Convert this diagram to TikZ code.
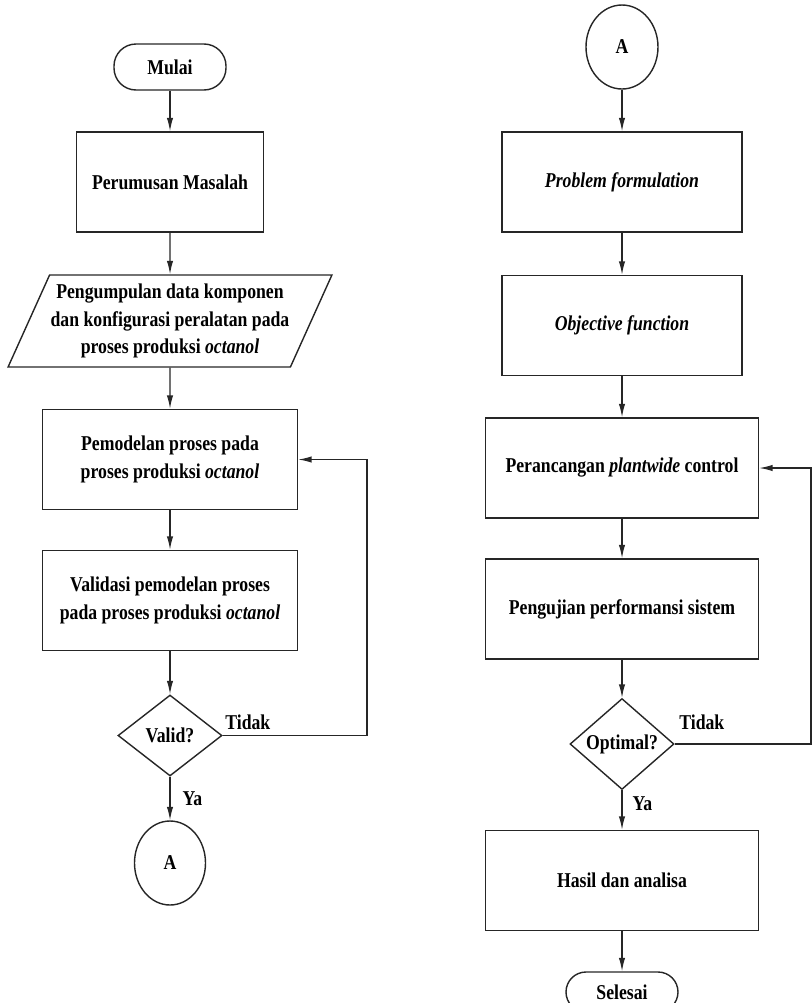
\documentclass[tikz,border=0pt]{standalone}
\usepackage{fontspec}
\setmainfont{Liberation Serif}[FakeStretch=0.84]
\usetikzlibrary{shapes.geometric,arrows.meta}

\begin{document}
\begin{tikzpicture}[
    font=\fontsize{15}{19.6}\selectfont\bfseries,
    garis/.style={line width=1pt, draw=black!85},
    proses/.style={garis, rectangle, minimum height=2.5cm, align=center, inner sep=2pt},
    terminal/.style={garis, rectangle, rounded corners=0.55cm, minimum width=2.8cm, minimum height=1.15cm},
    konektor/.style={garis, ellipse, minimum width=1.8cm, minimum height=2.1cm, inner sep=0pt},
    keputusan/.style={garis, diamond, minimum width=2.6cm, minimum height=2.025cm, inner sep=0pt},
    data/.style={garis, trapezium, trapezium left angle=61, trapezium right angle=119,
        trapezium stretches=true, minimum width=8.125cm, minimum height=2.3cm, align=center, inner sep=0pt},
    panah/.style={line width=0.9pt, draw=black!85, -{Latex[length=9.5pt,width=4.5pt]}},
    ket/.style={inner sep=0pt}
]
    % Batas gambar
    \useasboundingbox (0,0) rectangle (20.3,-25.075);

    % Kolom kiri
    \node[terminal] (mulai) at (4.25,-1.675) {Mulai};
    \node[proses, minimum width=4.675cm] (rumusan) at (4.25,-4.55) {Perumusan Masalah};
    \node[data] (kumpul) at (4.25,-8.025) {Pengumpulan data komponen\\ dan konfigurasi peralatan pada\\ proses produksi \textit{octanol}};
    \node[proses, minimum width=6.375cm] (model) at (4.25,-11.4875) {Pemodelan proses pada\\ proses produksi \textit{octanol}};
    \node[proses, minimum width=6.375cm] (validasi) at (4.25,-15.0125) {Validasi pemodelan proses\\ pada proses produksi \textit{octanol}};
    \node[keputusan] (valid) at (4.25,-18.3875) {Valid?};
    \node[konektor, minimum width=1.775cm] (A1) at (4.25,-21.575) {A};
    \coordinate (balikL) at (9.175,0);

    % Kolom kanan
    \node[konektor] (A2) at (15.55,-1.175) {A};
    \node[proses, minimum width=6cm] (problem) at (15.55,-4.55) {\textit{Problem formulation}};
    \node[proses, minimum width=6cm] (objektif) at (15.55,-8.1375) {\textit{Objective function}};
    \node[proses, minimum width=6.825cm] (rancang) at (15.55,-11.7) {Perancangan \textit{plantwide} control};
    \node[proses, minimum width=6.825cm] (uji) at (15.55,-15.225) {Pengujian performansi sistem};
    \node[keputusan] (optimal) at (15.55,-18.6) {Optimal?};
    \node[proses, minimum width=6.825cm] (hasil) at (15.55,-22.0125) {Hasil dan analisa};
    \node[terminal, minimum height=1cm, rounded corners=0.5cm] (selesai) at (15.55,-24.8) {Selesai};
    \coordinate (balikR) at (20.275,0);

    % Alur kiri
    \draw[panah] (mulai) -- (rumusan);
    \draw[panah] (rumusan) -- (kumpul);
    \draw[panah] (kumpul) -- (model);
    \draw[panah] (model) -- (validasi);
    \draw[panah] (validasi) -- (valid);
    \draw[panah] (valid) -- node[ket, midway, anchor=west, xshift=0.3cm] {Ya} (A1);
    \draw[panah] (valid.east) -- node[ket, pos=0, anchor=south west, xshift=0.05cm, yshift=0.13cm] {Tidak}
        (valid.east -| balikL) |- (model.east);

    % Alur kanan
    \draw[panah] (A2) -- (problem);
    \draw[panah] (problem) -- (objektif);
    \draw[panah] (objektif) -- (rancang);
    \draw[panah] (rancang) -- (uji);
    \draw[panah] (uji) -- (optimal);
    \draw[panah] (optimal) -- node[ket, pos=0.33, anchor=west, xshift=0.25cm] {Ya} (hasil);
    \draw[panah] (optimal.east) -- node[ket, pos=0, anchor=south west, xshift=0.1cm, yshift=0.33cm] {Tidak}
        (optimal.east -| balikR) |- (rancang.east);
    \draw[panah] (hasil) -- (selesai);
\end{tikzpicture}
\end{document}
